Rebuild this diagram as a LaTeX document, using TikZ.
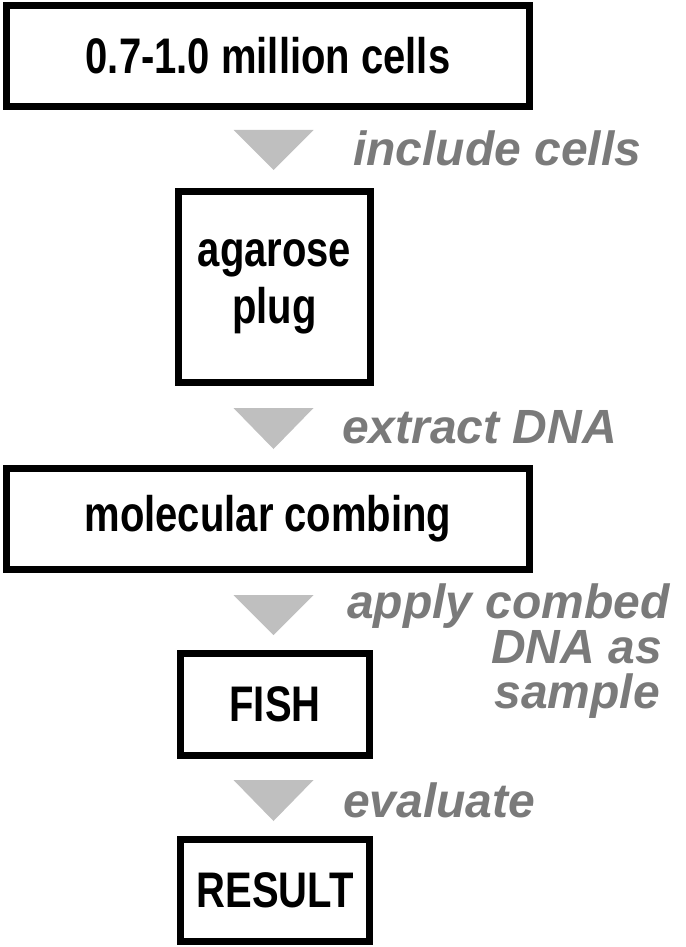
\documentclass[tikz,border=0pt]{standalone}
\usepackage{fontspec}
\setmainfont{Liberation Sans}
\newfontfamily\narrowfont{Liberation Sans}[FakeStretch=0.8]
\usetikzlibrary{positioning}
\definecolor{labelgray}{HTML}{7A7A7A}
\definecolor{tipgray}{HTML}{BFBFBF}

\begin{document}
\begin{tikzpicture}[x=1pt, y=-1pt,
  stage/.style={draw, rectangle, line width=7pt, inner sep=0pt,
    font=\narrowfont\bfseries\fontsize{50}{57}\selectfont, align=center},
  wide/.style={stage, minimum width=523pt, minimum height=101pt},
  narrow/.style={stage, minimum width=189pt, minimum height=102pt},
  action/.style={inner sep=0pt, anchor=base west, text=labelgray,
    font=\fontsize{48}{45}\selectfont\bfseries\itshape},
  tip/.style={fill=tipgray}
]
\useasboundingbox (0,0) rectangle (685,947);

% boxes
\node[wide] (cells) at (268,56) {0.7-1.0 million cells};
\node[stage, minimum width=192pt, minimum height=191pt] (plug) at (274.5,287) {agarose\\plug};
\node[wide] (combing) at (268,519) {molecular combing};
\node[narrow] (fish) at (275,704.5) {FISH};
\node[narrow] (result) at (275,890.5) {RESULT};

% grey arrow heads between the boxes
\coordinate[below=20pt of cells, xshift=5.5pt] (tip1);
\coordinate[below=22pt of plug, xshift=-1pt] (tip2);
\coordinate[below=22pt of combing, xshift=5.5pt] (tip3);
\coordinate[below=21pt of fish, xshift=-1.5pt] (tip4);
\fill[tip] (tip1) ++(-40,0) -- ++(80,0) -- ++(-40,40) -- cycle;
\fill[tip] (tip2) ++(-40,0) -- ++(80,0) -- ++(-40,41) -- cycle;
\fill[tip] (tip3) ++(-40,0) -- ++(80,0) -- ++(-40,40) -- cycle;
\fill[tip] (tip4) ++(-40,0) -- ++(80,0) -- ++(-40,41) -- cycle;

% steps
\node[action] (include) at (353,165) {include cells};
\node[action] (extract) at (342,443) {extract DNA};
\node[action, anchor=north west, align=right] (apply) at (347,584)
  {apply combed\\DNA as\hspace*{8pt}\null\\sample\hspace*{10pt}\null};
\node[action] (evaluate) at (343,817) {evaluate};

\end{tikzpicture}
\end{document}
